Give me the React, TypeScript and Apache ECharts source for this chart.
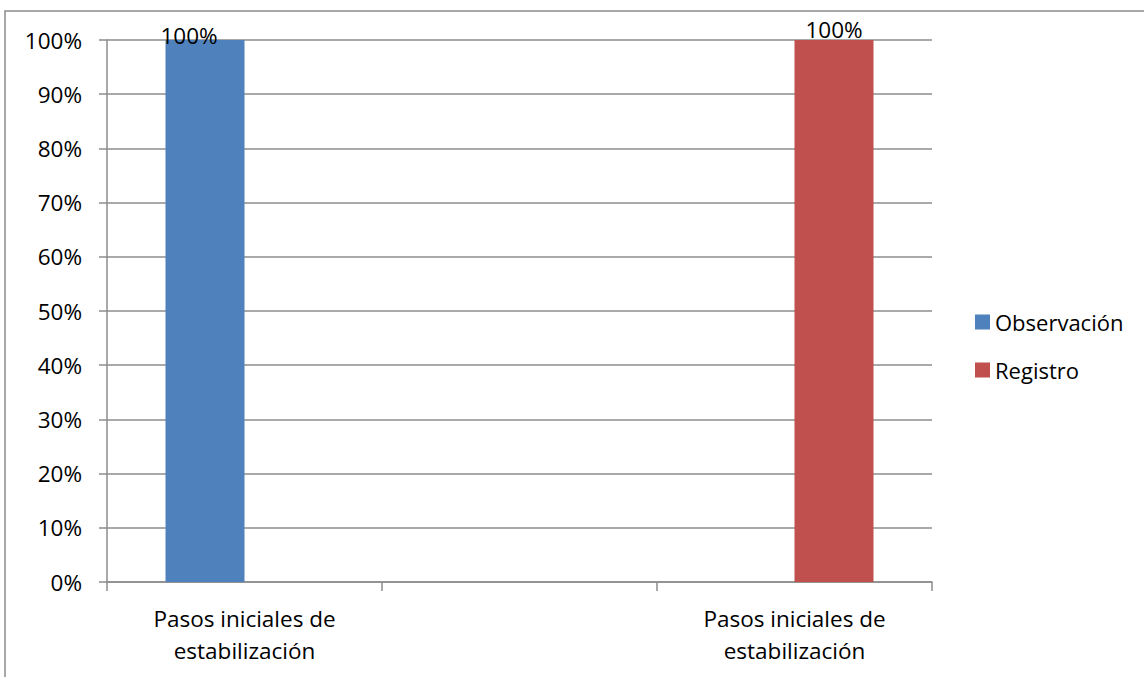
import React, { useEffect, useRef } from "react";
import * as echarts from "echarts";

const categories = [
  "Pasos iniciales de\nestabilización",
  "",
  "Pasos iniciales de\nestabilización",
];
const seriesNames = ["Observación", "Registro"];
const observacion = [100, null, null];
const registro = [null, null, 100];
const yTicks = { min: 0, max: 100, interval: 10 };

const FONT = "Open Sans";
const GRAY = "#8c8c8c";

export default function App() {
  const ref = useRef<HTMLDivElement>(null);
  useEffect(() => {
    if (!ref.current) return;
    const chart = echarts.init(ref.current, undefined, { renderer: "svg" });
    chart.setOption({
      animation: false,
      backgroundColor: "#ffffff",
      textStyle: { fontFamily: FONT, color: "#000" },
      graphic: [
        {
          type: "rect",
          shape: { x: 5, y: 11, width: 1300, height: 800 },
          style: { fill: "none", stroke: GRAY, lineWidth: 1.5 },
          silent: true,
        },
      ],
      grid: { left: 107, right: 212, top: 40, bottom: 95, containLabel: false },
      legend: {
        orient: "vertical",
        left: 970,
        top: 306,
        itemWidth: 15,
        itemHeight: 15,
        itemGap: 26,
        icon: "rect",
        textStyle: { fontFamily: FONT, fontSize: 22, color: "#000", lineHeight: 22 },
        data: seriesNames,
      },
      xAxis: {
        type: "category",
        data: categories,
        axisLine: { show: true, lineStyle: { color: GRAY, width: 1.5 } },
        axisTick: { show: true, length: 9, lineStyle: { color: GRAY, width: 1.5 } },
        axisLabel: {
          interval: 0,
          fontFamily: FONT,
          fontSize: 22.5,
          lineHeight: 32,
          color: "#000",
          margin: 20,
        },
        splitLine: { show: false },
      },
      yAxis: {
        type: "value",
        min: yTicks.min,
        max: yTicks.max,
        interval: yTicks.interval,
        axisLine: { show: true, lineStyle: { color: GRAY, width: 1.5 } },
        axisTick: { show: true, length: 8, lineStyle: { color: GRAY, width: 1.5 } },
        axisLabel: {
          formatter: "{value}%",
          fontFamily: FONT,
          fontSize: 22.5,
          color: "#000",
          margin: 25,
        },
        splitLine: { show: true, lineStyle: { color: GRAY, width: 1.5 } },
      },
      series: [
        {
          name: seriesNames[0],
          type: "bar",
          data: observacion,
          barWidth: 79,
          barGap: "0%",
          itemStyle: { color: "#4F81BD" },
          label: {
            show: true,
            position: "top",
            distance: -2,
            offset: [-16, 5],
            formatter: "{c}%",
            fontFamily: FONT,
            fontSize: 22.5,
            color: "#000",
          },
        },
        {
          name: seriesNames[1],
          type: "bar",
          data: registro,
          barWidth: 79,
          barGap: "0%",
          itemStyle: { color: "#C0504D" },
          label: {
            show: true,
            position: "top",
            distance: -1,
            formatter: "{c}%",
            fontFamily: FONT,
            fontSize: 22.5,
            color: "#000",
          },
        },
      ],
    });
    return () => chart.dispose();
  }, []);
  return (
    <div
      ref={ref}
      style={{ position: "fixed", left: 0, top: 0, width: 1144, height: 677 }}
    />
  );
}
